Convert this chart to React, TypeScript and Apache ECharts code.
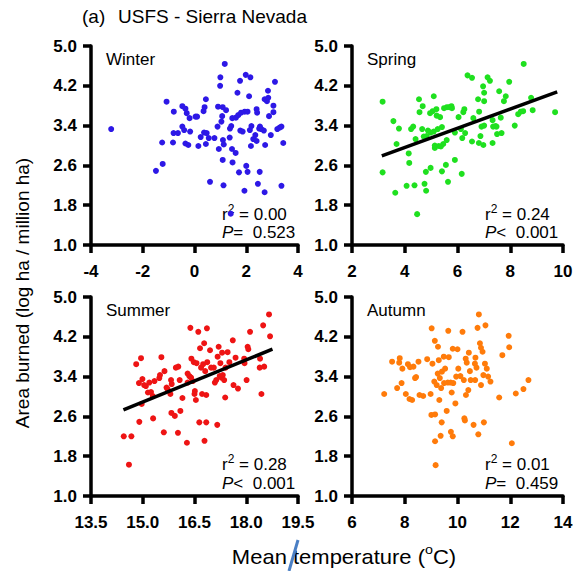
import React, { useEffect, useRef } from "react";
import * as echarts from "echarts";

const FONT = "'Liberation Sans', Arial, Helvetica, sans-serif";

const yTicks = [1.0, 1.8, 2.6, 3.4, 4.2, 5.0];

const winterPts: number[][] = [
  [-3.22, 3.33], [-1.49, 2.49], [-1.23, 2.63], [-1.25, 3.06], [-1.08, 3.88], [-0.83, 3.06], [-0.8, 3.68],
  [-0.81, 3.25], [-0.64, 3.25], [-0.47, 3.79], [-0.35, 3.74], [-0.3, 3.65], [-0.47, 3.38], [-0.4, 3.31],
  [-0.17, 3.28], [-0.35, 3.04], [-0.24, 3.01], [-0.19, 3.55], [0.04, 3.58], [0.1, 3.58], [0.15, 2.99],
  [0.24, 3.17], [0.35, 3.69], [0.39, 3.77], [0.44, 3.93], [0.37, 3.26], [0.47, 3.25], [0.44, 3.03],
  [0.55, 3.15], [0.6, 2.27], [0.77, 3.15], [0.89, 3.38], [0.91, 3.78], [0.94, 2.93], [0.99, 4.2],
  [1.0, 4.37], [1.04, 3.48], [1.07, 3.59], [1.09, 3.77], [1.1, 3.11], [1.13, 3.02], [1.09, 2.71],
  [1.12, 2.2], [1.17, 4.64], [1.22, 3.71], [1.36, 3.16], [1.37, 3.34], [1.42, 3.39], [1.45, 2.93],
  [1.47, 2.66], [1.46, 3.55], [1.59, 2.85], [1.6, 3.56], [1.66, 4.06], [1.69, 3.61], [1.72, 2.46],
  [1.76, 4.3], [1.77, 3.3], [1.8, 3.66], [1.86, 3.28], [1.93, 2.09], [1.94, 3.68], [1.98, 4.42],
  [2.0, 2.59], [2.05, 2.47], [2.05, 3.68], [2.11, 3.99], [2.16, 4.37], [2.14, 3.31], [2.18, 2.99],
  [2.2, 3.39], [2.27, 3.13], [2.35, 3.21], [2.4, 3.73], [2.42, 3.66], [2.4, 3.09], [2.45, 2.23],
  [2.52, 2.47], [2.53, 3.38], [2.5, 3.34], [2.58, 3.33], [2.68, 3.3], [2.73, 3.01], [2.71, 2.06],
  [2.71, 3.93], [2.8, 3.89], [2.84, 4.1], [2.85, 3.96], [2.88, 3.59], [2.95, 3.21], [3.05, 3.8],
  [3.05, 3.67], [3.11, 4.28], [3.2, 3.33], [3.29, 3.36], [3.36, 3.38], [3.36, 2.19], [3.43, 3.05],
  [1.4, 1.63],
];

const springPts: number[][] = [
  [3.16, 3.88], [3.16, 2.46], [3.57, 3.49], [3.64, 2.05], [3.78, 3.34], [3.69, 3.03], [4.07, 2.19],
  [4.15, 2.84], [4.17, 2.65], [4.24, 3.33], [4.32, 3.38], [4.37, 2.2], [4.47, 1.62], [4.41, 3.13],
  [4.54, 3.93], [4.56, 3.67], [4.66, 3.33], [4.68, 3.79], [4.72, 3.18], [4.75, 2.23], [4.8, 2.47],
  [4.81, 2.09], [4.83, 3.19], [4.88, 3.3], [4.96, 3.65], [4.98, 2.55], [4.98, 3.26], [5.06, 3.69],
  [5.1, 3.99], [5.1, 3.28], [5.14, 2.95], [5.14, 3.0], [5.2, 3.73], [5.21, 3.6], [5.25, 3.33],
  [5.29, 2.99], [5.34, 3.57], [5.41, 2.48], [5.37, 2.98], [5.41, 3.37], [5.46, 3.03], [5.49, 3.75],
  [5.56, 2.61], [5.59, 3.11], [5.6, 3.77], [5.64, 2.27], [5.69, 3.77], [5.77, 3.79], [5.79, 3.75],
  [5.9, 3.26], [5.9, 2.71], [6.04, 3.57], [6.13, 3.33], [6.16, 2.43], [6.18, 3.15], [6.22, 3.67],
  [6.26, 3.73], [6.29, 3.25], [6.38, 4.41], [6.55, 4.36], [6.55, 3.08], [6.6, 3.55], [6.78, 3.93],
  [6.82, 3.68], [6.81, 3.05], [6.87, 3.19], [6.91, 3.38], [6.98, 3.01], [6.97, 4.19], [7.01, 4.06],
  [7.01, 3.89], [7.14, 4.37], [7.23, 4.3], [7.33, 3.51], [7.33, 3.05], [7.44, 3.39], [7.48, 3.38],
  [7.5, 3.23], [7.58, 4.09], [7.64, 3.56], [7.67, 3.25], [7.76, 3.89], [7.83, 3.99], [7.96, 4.28],
  [8.17, 3.4], [8.3, 3.63], [8.4, 3.68], [8.49, 3.69], [8.51, 4.64], [8.79, 3.96], [8.85, 3.71],
  [9.7, 3.67], [7.01, 3.4], [7.35, 3.38],
];

const summerPts: number[][] = [
  [14.45, 2.2], [14.67, 2.2], [14.6, 1.63], [14.81, 3.65], [14.89, 3.27], [14.9, 2.49], [14.95, 3.77],
  [14.97, 2.85], [14.99, 3.35], [15.04, 3.23], [15.09, 3.21], [15.15, 3.08], [15.19, 3.28], [15.24, 3.09],
  [15.29, 3.01], [15.3, 2.56], [15.34, 3.31], [15.48, 3.37], [15.54, 3.79], [15.5, 3.43], [15.61, 2.28],
  [15.63, 3.51], [15.69, 3.18], [15.72, 3.15], [15.8, 3.05], [15.82, 3.33], [15.84, 3.25], [15.83, 2.67],
  [15.93, 2.61], [15.96, 3.58], [16.03, 3.6], [16.02, 2.27], [16.09, 2.71], [16.07, 3.33], [16.15, 2.97],
  [16.28, 2.07], [16.3, 3.28], [16.35, 3.41], [16.38, 4.38], [16.4, 3.38], [16.41, 3.76], [16.45, 3.31],
  [16.48, 3.69], [16.51, 3.11], [16.5, 3.05], [16.54, 2.93], [16.56, 3.67], [16.61, 4.3], [16.64, 2.48],
  [16.66, 3.97], [16.69, 3.58], [16.72, 3.05], [16.75, 3.65], [16.78, 4.07], [16.79, 2.11], [16.84, 2.48],
  [16.84, 3.03], [16.86, 4.37], [16.87, 3.69], [16.81, 3.51], [16.95, 3.93], [17.06, 3.58], [17.09, 3.28],
  [17.13, 3.33], [17.16, 2.43], [17.17, 3.8], [17.2, 4.0], [17.23, 3.41], [17.25, 3.67], [17.28, 3.38],
  [17.3, 3.88], [17.32, 3.43], [17.36, 3.33], [17.39, 2.98], [17.4, 3.58], [17.46, 3.89], [17.51, 3.69],
  [17.61, 4.13], [17.63, 3.23], [17.69, 3.78], [17.76, 3.16], [17.94, 3.76], [17.95, 3.67], [18.01, 3.33],
  [18.04, 4.0], [18.06, 3.95], [18.11, 4.3], [18.39, 3.58], [18.4, 3.76], [18.44, 3.05], [18.49, 4.43],
  [18.52, 3.6], [18.66, 4.65], [18.69, 4.21], [16.98, 3.58], [16.3, 3.46],
];

const autumnPts: number[][] = [
  [7.22, 3.05], [7.52, 3.7], [7.71, 3.17], [7.79, 3.68], [7.81, 3.77], [7.88, 3.27], [7.91, 3.56],
  [8.04, 3.05], [8.12, 3.65], [8.18, 2.95], [8.2, 3.59], [8.28, 2.93], [8.39, 3.37], [8.43, 3.39],
  [8.52, 3.7], [8.56, 3.03], [8.7, 3.01], [8.85, 3.75], [8.98, 3.05], [9.01, 2.63], [9.02, 4.37],
  [9.05, 3.66], [9.12, 3.3], [9.14, 4.12], [9.15, 2.64], [9.15, 2.1], [9.17, 1.62], [9.21, 3.23],
  [9.26, 4.0], [9.29, 3.73], [9.25, 3.46], [9.31, 2.93], [9.33, 3.37], [9.36, 2.21], [9.38, 3.17],
  [9.4, 2.48], [9.41, 3.5], [9.48, 3.8], [9.49, 3.27], [9.53, 3.56], [9.59, 2.71], [9.67, 3.79],
  [9.65, 4.32], [9.63, 3.28], [9.74, 3.28], [9.78, 3.08], [9.75, 2.29], [9.82, 2.2], [9.82, 3.96],
  [9.84, 3.27], [9.92, 2.86], [9.95, 3.4], [10.0, 3.95], [10.03, 3.56], [10.11, 3.41], [10.19, 4.3],
  [10.24, 3.33], [10.26, 2.56], [10.28, 2.52], [10.31, 3.76], [10.32, 3.03], [10.35, 3.68], [10.41, 3.13],
  [10.43, 3.88], [10.47, 3.51], [10.5, 3.33], [10.61, 2.43], [10.66, 3.66], [10.67, 3.33], [10.68, 3.78],
  [10.72, 3.58], [10.76, 4.38], [10.79, 2.24], [10.81, 4.65], [10.85, 4.07], [10.89, 3.98], [10.89, 3.23],
  [10.95, 3.9], [10.98, 3.43], [11.0, 2.48], [11.04, 3.66], [11.06, 4.43], [11.11, 3.56], [11.16, 3.4],
  [11.25, 3.3], [11.58, 2.98], [11.7, 3.83], [11.94, 4.22], [11.96, 3.99], [12.06, 2.06], [12.21, 3.06],
  [12.5, 3.15], [12.69, 3.33], [8.33, 3.6],
];

const springFit: number[][] = [[3.13, 2.79], [9.78, 4.08]];
const summerFit: number[][] = [[14.44, 2.73], [18.76, 3.95]];

const seasonNames = ["Winter", "Spring", "Summer", "Autumn"];
const seasonColors = ["#2d18e6", "#1fe01f", "#ee1414", "#ff7b0a"];
const xMins = [-4, 2, 13.5, 6];
const xMaxs = [4, 10, 19.5, 14];
const xSteps = [2, 2, 1.5, 2];
const xDecimals = [0, 0, 1, 0];
const r2Values = ["0.00", "0.24", "0.28", "0.01"];
const pValues = ["=  0.523", "<  0.001", "<  0.001", "=  0.459"];

const gridBoxes = [
  { left: 91, top: 46, width: 207, height: 199 },
  { left: 352, top: 46, width: 211, height: 199 },
  { left: 91, top: 297, width: 207, height: 199 },
  { left: 352, top: 297, width: 211, height: 199 },
];

export default function App() {
  const ref = useRef<HTMLDivElement>(null);
  useEffect(() => {
    if (!ref.current) return;
    const chart = echarts.init(ref.current, null, { renderer: "svg" });
    const allPts = [winterPts, springPts, summerPts, autumnPts];
    const fits: (number[][] | null)[] = [null, springFit, summerFit, null];

    const grids = gridBoxes.map((g) => ({ ...g, containLabel: false, outerBoundsMode: "none" }));
    const axisLineStyle = { color: "#000", width: 3.5 };
    const tickStyle = { color: "#000", width: 3.5 };
    const xAxes = gridBoxes.map((_, i) => ({
      type: "value",
      gridIndex: i,
      min: xMins[i],
      max: xMaxs[i],
      interval: xSteps[i],
      splitLine: { show: false },
      axisLine: { show: true, onZero: false, lineStyle: axisLineStyle },
      axisTick: { show: true, length: 8, lineStyle: tickStyle },
      axisLabel: {
        color: "#000",
        fontSize: 17,
        fontWeight: "bold",
        fontFamily: FONT,
        margin: 18,
        formatter: (v: number) => v.toFixed(xDecimals[i]),
      },
    }));
    const yAxes = gridBoxes.map((_, i) => ({
      type: "value",
      gridIndex: i,
      min: 1,
      max: 5,
      splitLine: { show: false },
      axisLine: { show: true, onZero: false, lineStyle: axisLineStyle },
      axisTick: { show: true, length: 8, customValues: yTicks, lineStyle: tickStyle },
      axisLabel: {
        color: "#000",
        fontSize: 17,
        fontWeight: "bold",
        fontFamily: FONT,
        margin: 14,
        customValues: yTicks,
        formatter: (v: number) => v.toFixed(1),
      },
    }));

    const series: any[] = [];
    allPts.forEach((pts, i) => {
      series.push({
        type: "scatter",
        xAxisIndex: i,
        yAxisIndex: i,
        data: pts,
        symbolSize: 6,
        itemStyle: { color: seasonColors[i], opacity: 1 },
        z: 2,
      });
      const f = fits[i];
      if (f) {
        series.push({
          type: "line",
          xAxisIndex: i,
          yAxisIndex: i,
          data: f,
          showSymbol: false,
          symbol: "none",
          lineStyle: { color: "#000", width: 3.5 },
          z: 3,
        });
      }
    });

    const graphics: any[] = [];
    const statPos = [
      [222, 213, 232],
      [485, 213, 232],
      [222, 463, 483],
      [485, 463, 483],
    ];
    gridBoxes.forEach((g, i) => {
      graphics.push({
        type: "text",
        x: g.left + 15,
        y: g.top + 13,
        style: {
          text: seasonNames[i],
          fontSize: 17,
          fontFamily: FONT,
          fill: "#000",
          align: "left",
          verticalAlign: "middle",
        },
      });
      const [sx, sy1, sy2] = statPos[i];
      graphics.push({
        type: "text",
        x: sx,
        y: sy1,
        style: {
          text: `{a|r}{s|2}{a| = ${r2Values[i]}}`,
          fontFamily: FONT,
          fill: "#000",
          align: "left",
          verticalAlign: "middle",
          rich: {
            a: { fontSize: 17, fontFamily: FONT, lineHeight: 20, verticalAlign: "bottom" },
            s: { fontSize: 12, fontFamily: FONT, lineHeight: 12, verticalAlign: "top" },
          },
        },
      });
      graphics.push({
        type: "text",
        x: sx,
        y: sy2,
        style: {
          text: `{p|P}{a|${pValues[i]}}`,
          fontFamily: FONT,
          fill: "#000",
          align: "left",
          verticalAlign: "middle",
          rich: {
            p: { fontSize: 17, fontFamily: FONT, fontStyle: "italic" },
            a: { fontSize: 17, fontFamily: FONT },
          },
        },
      });
    });

    graphics.push(
      {
        type: "text",
        x: 82,
        y: 16,
        style: { text: "(a)", fontSize: 19, fontFamily: FONT, fill: "#000", align: "left", verticalAlign: "middle" },
      },
      {
        type: "text",
        x: 118,
        y: 16,
        style: {
          text: "USFS - Sierra Nevada",
          fontSize: 19,
          fontFamily: FONT,
          fill: "#000",
          align: "left",
          verticalAlign: "middle",
        },
      },
      {
        type: "text",
        x: 22,
        y: 293,
        rotation: Math.PI / 2,
        style: {
          text: "Area burned (log ha / million ha)",
          fontSize: 19,
          fontFamily: FONT,
          fill: "#000",
          align: "center",
          verticalAlign: "middle",
        },
      },
      {
        type: "text",
        x: 344,
        y: 555,
        scaleX: 1.1,
        style: {
          text: "{a|Mean temperature (}{o|o}{a|C)}",
          fontFamily: FONT,
          fill: "#000",
          align: "center",
          verticalAlign: "middle",
          rich: {
            a: { fontSize: 20, fontFamily: FONT, lineHeight: 23, verticalAlign: "bottom" },
            o: { fontSize: 13, fontFamily: FONT, lineHeight: 13, verticalAlign: "top" },
          },
        },
      },
      {
        type: "line",
        shape: { x1: 298, y1: 540, x2: 289, y2: 571 },
        style: { stroke: "#4a7fc4", lineWidth: 3 },
        z: 10,
      }
    );

    chart.setOption({
      animation: false,
      backgroundColor: "#fff",
      grid: grids,
      xAxis: xAxes,
      yAxis: yAxes,
      series,
      graphic: graphics,
    });
    return () => chart.dispose();
  }, []);
  return (
    <div
      ref={ref}
      style={{ position: "fixed", left: 0, top: 0, width: 575, height: 571, background: "#fff" }}
    />
  );
}
